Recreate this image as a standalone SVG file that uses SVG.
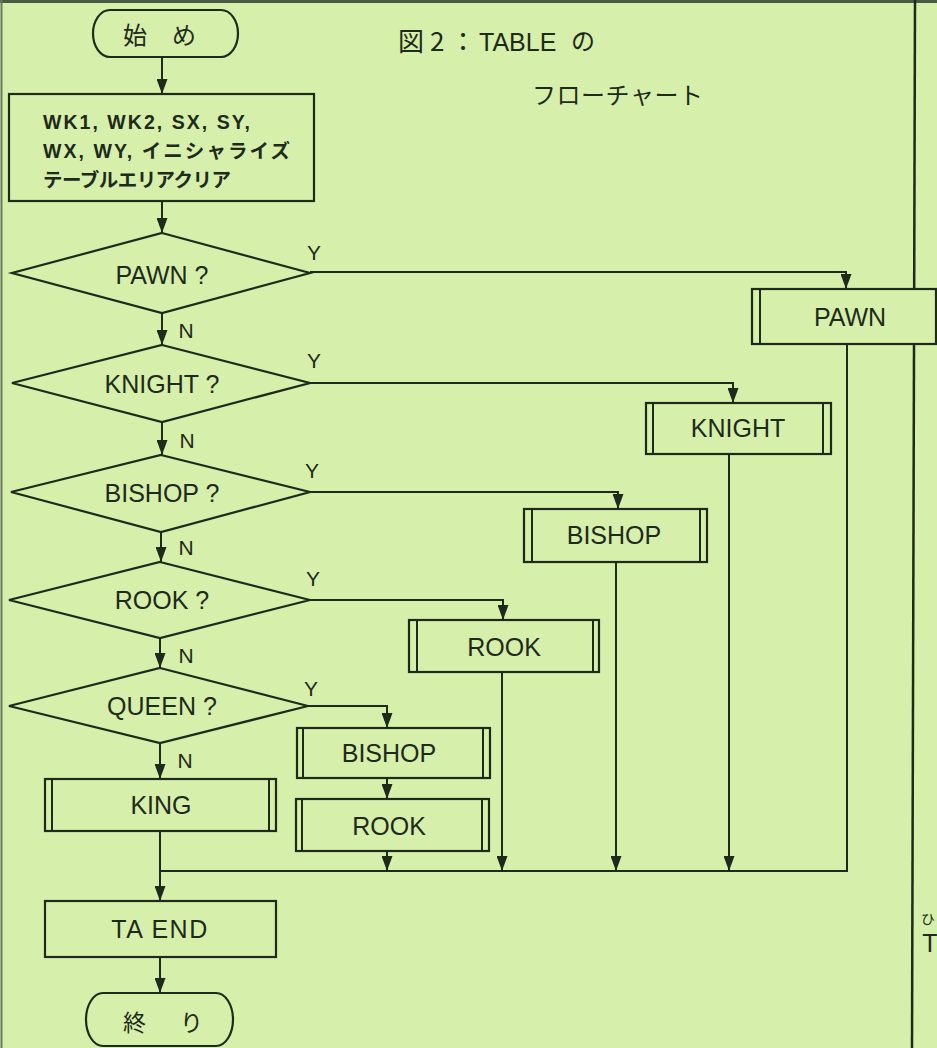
<svg xmlns="http://www.w3.org/2000/svg" width="937" height="1048" viewBox="0 0 937 1048">
<defs>
<marker id="ah" viewBox="0 0 11 15" refX="5.5" refY="15" markerWidth="11" markerHeight="15" markerUnits="userSpaceOnUse" orient="0">
<path d="M0,0 L11,0 L5.5,15 Z" fill="#1e2a1c"/>
</marker>
<style>
.s{fill:#d6efaa;stroke:#1e2a1c;stroke-width:2.2}
.c{fill:none;stroke:#1e2a1c;stroke-width:2}
.ca{fill:none;stroke:#1e2a1c;stroke-width:2;marker-end:url(#ah)}
.t{font-family:"Liberation Sans","Noto Sans CJK JP",sans-serif;font-size:25px;fill:#1e2a1c;text-anchor:middle}
.yn{font-family:"Liberation Sans",sans-serif;font-size:21px;fill:#1e2a1c;text-anchor:middle}
.j{font-family:"Noto Sans CJK JP","Liberation Sans",sans-serif;fill:#1e2a1c}
.p{font-family:"Liberation Sans","Noto Sans CJK JP",sans-serif;font-size:19.5px;font-weight:bold;fill:#1e2a1c}
</style>
</defs>
<rect x="0" y="0" width="937" height="1048" fill="#d6efaa"/>
<line x1="0" y1="1.5" x2="937" y2="1.5" stroke="#4a5a44" stroke-width="3"/>
<line x1="1.5" y1="0" x2="1.5" y2="1048" stroke="#6a7a60" stroke-width="2"/>
<line x1="915" y1="0" x2="912" y2="1048" stroke="#1e2a1c" stroke-width="2.5"/>

<g id="title">
<text class="j" font-size="26" y="51"><tspan x="398">図</tspan><tspan x="430">2</tspan><tspan x="450">：</tspan></text>
<text class="t" font-size="26" x="479" y="51" style="text-anchor:start">TABLE</text>
<text class="j" font-size="24" x="571" y="50">の</text>
<text class="j" font-size="24" x="532" y="104" textLength="171" lengthAdjust="spacing">フローチャート</text>
</g>

<g id="connectors">
<line class="ca" x1="162" y1="57" x2="162" y2="94"/>
<line class="ca" x1="162" y1="201" x2="162" y2="233"/>
<line class="ca" x1="162" y1="313" x2="162" y2="345"/>
<line class="ca" x1="162" y1="422" x2="162" y2="455"/>
<line class="ca" x1="161" y1="532" x2="161" y2="562"/>
<line class="ca" x1="160" y1="638" x2="160" y2="668"/>
<line class="ca" x1="160" y1="743" x2="160" y2="779"/>
<line class="ca" x1="160" y1="831" x2="160" y2="901"/>
<line class="ca" x1="160" y1="957" x2="160" y2="993"/>
<polyline class="ca" points="310,272 846,272 846,289"/>
<polyline class="ca" points="310,383 733,383 733,403"/>
<polyline class="ca" points="310,492 618,492 618,509"/>
<polyline class="ca" points="310,600 503,600 503,620"/>
<polyline class="ca" points="308,706 387,706 387,728"/>
<line class="ca" x1="387" y1="778" x2="387" y2="799"/>
<line class="ca" x1="387" y1="851" x2="387" y2="871"/>
<line class="ca" x1="502" y1="672" x2="502" y2="871"/>
<line class="ca" x1="616" y1="562" x2="616" y2="871"/>
<line class="ca" x1="729" y1="454" x2="729" y2="871"/>
<polyline class="c" points="847,344 847,871 160,871"/>
</g>

<g id="start">
<path class="s" d="M110,10 H221 A17,23.5 0 0 1 221,57 H110 A17,23.5 0 0 1 110,10 Z"/>
<text class="j" font-size="24" y="44"><tspan x="123">始</tspan><tspan x="172">め</tspan></text>
</g>

<g id="init">
<rect class="s" x="9" y="94" width="305" height="107"/>
<text class="p" x="43" y="129" textLength="207" lengthAdjust="spacing">WK1, WK2, SX, SY,</text>
<text class="p" x="43" y="158" textLength="247" lengthAdjust="spacing">WX, WY, イニシャライズ</text>
<text class="p" x="43" y="187" textLength="188" lengthAdjust="spacing">テーブルエリアクリア</text>
</g>

<g id="d-pawn">
<polygon class="s" points="162,233 310,273 162,313 12,273"/>
<text class="t" x="162" y="284">PAWN ?</text>
<text class="yn" x="314" y="260">Y</text>
<text class="yn" x="186" y="338">N</text>
</g>
<g id="d-knight">
<polygon class="s" points="162,345 310,383 162,422 12,383"/>
<text class="t" x="162" y="393">KNIGHT ?</text>
<text class="yn" x="314" y="368">Y</text>
<text class="yn" x="187" y="448">N</text>
</g>
<g id="d-bishop">
<polygon class="s" points="161,455 310,492 161,532 11,492"/>
<text class="t" x="162" y="502">BISHOP ?</text>
<text class="yn" x="312" y="478">Y</text>
<text class="yn" x="186" y="555">N</text>
</g>
<g id="d-rook">
<polygon class="s" points="160,562 310,600 160,638 9,600"/>
<text class="t" x="162" y="609">ROOK ?</text>
<text class="yn" x="313" y="586">Y</text>
<text class="yn" x="186" y="663">N</text>
</g>
<g id="d-queen">
<polygon class="s" points="160,668 308,706 160,743 9,706"/>
<text class="t" x="162" y="715">QUEEN ?</text>
<text class="yn" x="311" y="696">Y</text>
<text class="yn" x="185" y="768">N</text>
</g>

<g id="b-pawn">
<rect class="s" x="752" y="289" width="184" height="55"/>
<line class="c" x1="760" y1="289" x2="760" y2="344"/>
<text class="t" x="850" y="326">PAWN</text>
</g>
<g id="b-knight">
<rect class="s" x="646" y="403" width="185" height="51"/>
<line class="c" x1="653" y1="403" x2="653" y2="454"/>
<line class="c" x1="823" y1="403" x2="823" y2="454"/>
<text class="t" x="738" y="437">KNIGHT</text>
</g>
<g id="b-bishop">
<rect class="s" x="524" y="509" width="183" height="53"/>
<line class="c" x1="532" y1="509" x2="532" y2="562"/>
<line class="c" x1="700" y1="509" x2="700" y2="562"/>
<text class="t" x="614" y="544">BISHOP</text>
</g>
<g id="b-rook">
<rect class="s" x="409" y="620" width="190" height="52"/>
<line class="c" x1="417" y1="620" x2="417" y2="672"/>
<line class="c" x1="593" y1="620" x2="593" y2="672"/>
<text class="t" x="504" y="656">ROOK</text>
</g>
<g id="b-qbishop">
<rect class="s" x="297" y="728" width="193" height="50"/>
<line class="c" x1="303" y1="728" x2="303" y2="778"/>
<line class="c" x1="483" y1="728" x2="483" y2="778"/>
<text class="t" x="389" y="762">BISHOP</text>
</g>
<g id="b-qrook">
<rect class="s" x="296" y="799" width="193" height="52"/>
<line class="c" x1="302" y1="799" x2="302" y2="851"/>
<line class="c" x1="482" y1="799" x2="482" y2="851"/>
<text class="t" x="389" y="835">ROOK</text>
</g>
<g id="b-king">
<rect class="s" x="45" y="779" width="231" height="52"/>
<line class="c" x1="52" y1="779" x2="52" y2="831"/>
<line class="c" x1="269" y1="779" x2="269" y2="831"/>
<text class="t" x="161" y="814">KING</text>
</g>
<g id="b-taend">
<rect class="s" x="45" y="901" width="231" height="56"/>
<text class="t" x="160" y="938" letter-spacing="1.5">TA END</text>
</g>

<g id="end">
<path class="s" d="M103,993 H216 A17,26.5 0 0 1 216,1046 H103 A17,26.5 0 0 1 103,993 Z"/>
<text class="j" font-size="23" y="1031"><tspan x="123">終</tspan><tspan x="180">り</tspan></text>
</g>

<g id="margin-text">
<text class="j" font-size="14" x="921" y="924">ひ</text>
<text class="t" font-size="17" x="930" y="952">T</text>
</g>
</svg>
